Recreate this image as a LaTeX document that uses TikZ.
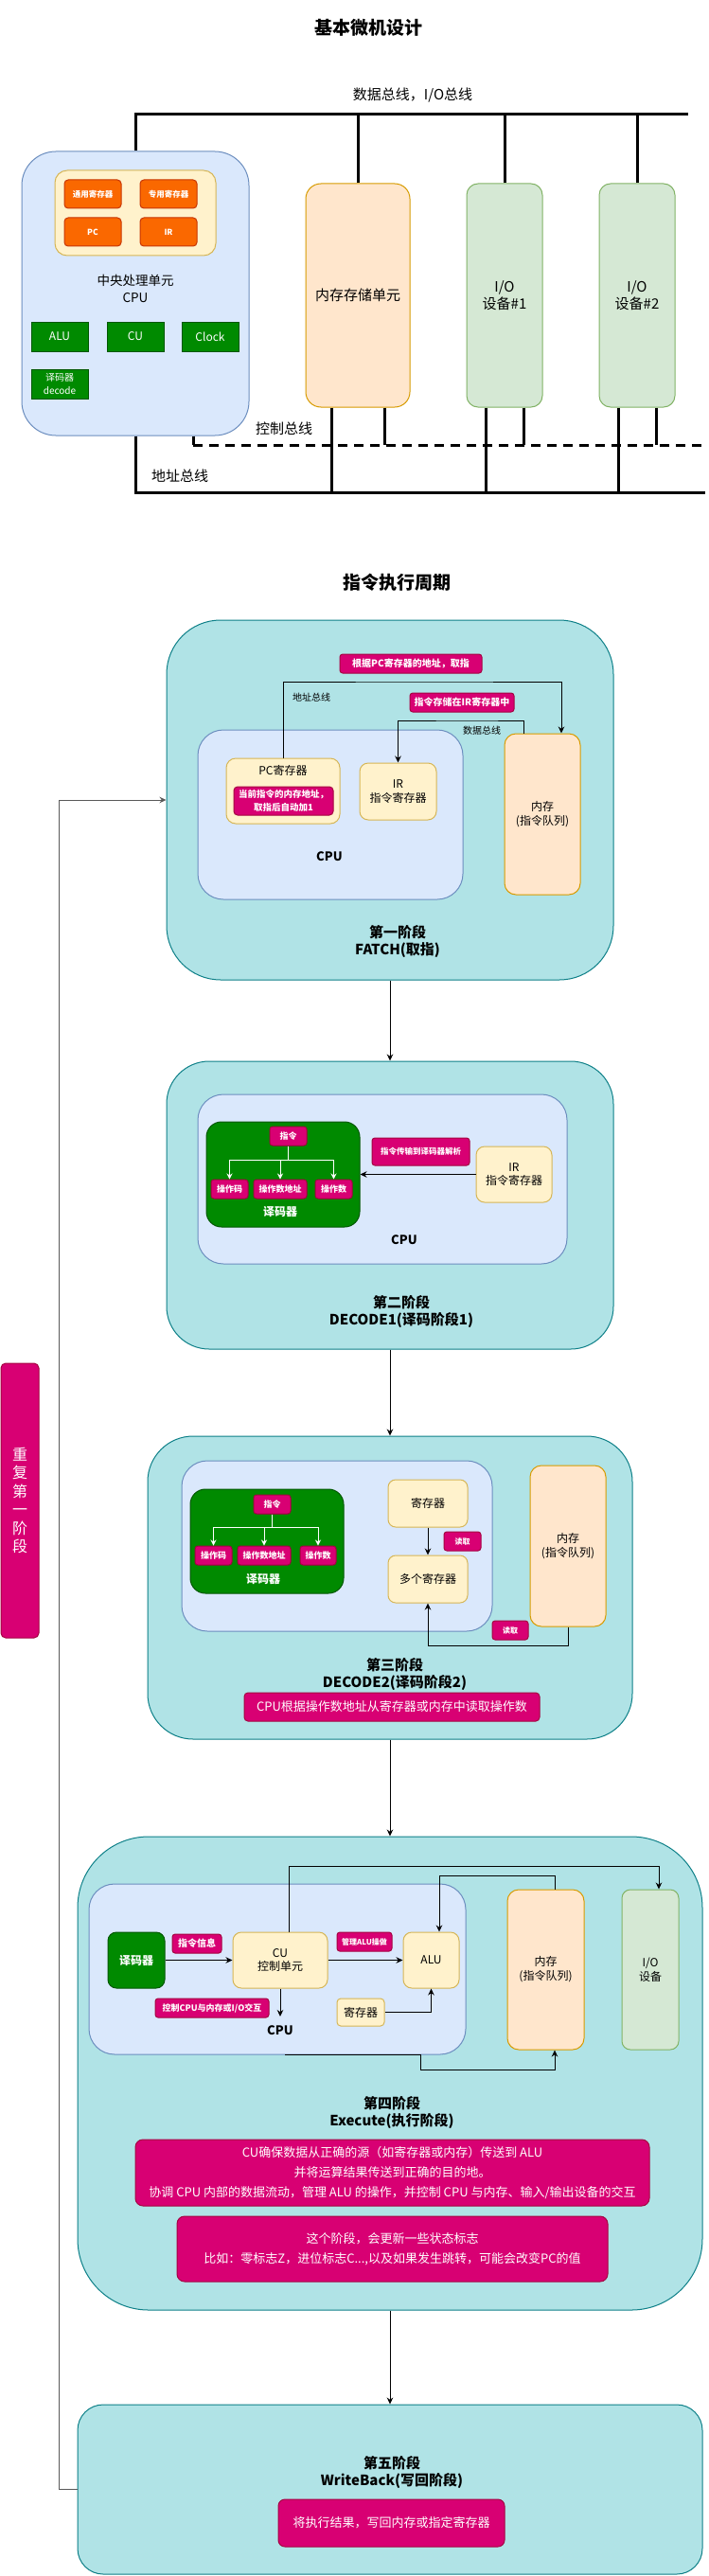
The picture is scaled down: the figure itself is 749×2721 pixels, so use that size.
\documentclass[tikz,border=0pt]{standalone}
\usepackage{fontspec}
\setmainfont{Noto Sans CJK SC}
\usetikzlibrary{arrows.meta,calc}
\definecolor{tealF}{HTML}{B0E3E6}
\definecolor{tealD}{HTML}{0E8088}
\definecolor{blueF}{HTML}{DAE8FC}
\definecolor{blueD}{HTML}{6C8EBF}
\definecolor{yelF}{HTML}{FFF2CC}
\definecolor{yelD}{HTML}{D6B656}
\definecolor{orgF}{HTML}{FA6800}
\definecolor{orgD}{HTML}{C73500}
\definecolor{grnF}{HTML}{008A00}
\definecolor{grnD}{HTML}{005700}
\definecolor{memF}{HTML}{FFE6CC}
\definecolor{memD}{HTML}{D79B00}
\definecolor{ioF}{HTML}{D5E8D4}
\definecolor{ioD}{HTML}{82B366}
\definecolor{pinkF}{HTML}{D80073}
\definecolor{pinkD}{HTML}{A50040}
\newcommand\myfs[2]{\fontsize{#1}{#2}\selectfont}
\tikzset{
  sz/.style 2 args={minimum width=#1pt,minimum height=#2pt},
  rc/.style={rounded corners=#1pt},
  box/.style={draw,line width=1pt,inner sep=0pt,align=center},
  tealb/.style={box,fill=tealF,draw=tealD},
  blueb/.style={box,fill=blueF,draw=blueD},
  yelb/.style={box,fill=yelF,draw=yelD,font=\myfs{12}{14.7}},
  orgb/.style={box,fill=orgF,draw=orgD,text=white},
  grnb/.style={box,fill=grnF,draw=grnD,text=white},
  memb/.style={box,fill=memF,draw=memD,font=\myfs{12}{15}},
  iob/.style={box,fill=ioF,draw=ioD,font=\myfs{12}{15}},
  pinkb/.style={box,fill=pinkF,draw=pinkD,text=white},
  tag/.style={pinkb,rc=3,font=\bfseries\myfs{9}{11}},
  txt/.style={inner sep=0pt,align=center},
  stage/.style={txt,font=\bfseries\myfs{15}{18}},
  bus/.style={draw,line width=3pt},
  arr/.style={draw,line width=1pt,-{Stealth[length=7pt,width=6.5pt]}},
  warr/.style={draw=white,line width=1pt,-{Stealth[length=6pt,width=6pt]}},
}
\begin{document}
\begin{tikzpicture}[x=1pt,y=-1pt]
\useasboundingbox[fill=white] (0,0) rectangle (749,2721);

% ===== Section 1: basic microcomputer =====
\node[txt,font=\bfseries\myfs{19}{22}] (t1) at (389,29) {基本微机设计};
\node[txt,font=\myfs{15}{18}] (dbl) at (436,101) {数据总线，I/O总线};

\node[blueb,sz={240}{300},rc=36] (cpu1) at (143,310) {};
\node[yelb,sz={170}{90},rc=13] (rg) at (143,225) {};
\node[orgb,sz={60}{30},rc=4,font=\bfseries\myfs{8.5}{10}] (r1) at (98,205) {通用寄存器};
\node[orgb,sz={60}{30},rc=4,font=\bfseries\myfs{8.5}{10}] (r2) at (178,205) {专用寄存器};
\node[orgb,sz={60}{30},rc=4,font=\bfseries\myfs{8.5}{10}] (r3) at (98,245) {PC};
\node[orgb,sz={60}{30},rc=4,font=\bfseries\myfs{8.5}{10}] (r4) at (178,245) {IR};
\node[txt,font=\myfs{13.5}{18}] (cpu1l) at (143,305) {中央处理单元\\CPU};
\node[grnb,sz={60}{31},font=\myfs{12}{14}] (alu1) at (63,355.5) {ALU};
\node[grnb,sz={60}{31},font=\myfs{12}{14}] (cu1) at (143,355.5) {CU};
\node[grnb,sz={60}{31},font=\myfs{12}{14}] (clk1) at (222,355.5) {Clock};
\node[grnb,sz={60}{31},font=\myfs{10}{14}] (dec1) at (63,405.5) {译码器\\decode};

\node[memb,sz={110}{236},rc=16,font=\myfs{15}{18}] (mem1) at (378,312) {内存存储单元};
\node[iob,sz={80}{236},rc=12,font=\myfs{15}{18}] (io1) at (533,312) {I/O\\设备\#1};
\node[iob,sz={80}{236},rc=12,font=\myfs{15}{18}] (io2) at (673,312) {I/O\\设备\#2};

% data bus
\coordinate (tb0) at (143,121);
\coordinate (tb1) at (727,121);
\draw[bus] (cpu1.north) -- (tb0) -- (tb1);
\draw[bus] (mem1.north) -- (mem1.north |- tb0);
\draw[bus] (io1.north) -- (io1.north |- tb0);
\draw[bus] (io2.north) -- (io2.north |- tb0);
% address bus
\coordinate (ab0) at (143,520);
\coordinate (ab1) at (745,520);
\draw[bus] (cpu1.south) -- (ab0) -- (ab1);
\draw[bus] ([xshift=-28pt]mem1.south) -- ([xshift=-28pt]mem1.south |- ab0);
\draw[bus] ([xshift=-20pt]io1.south) -- ([xshift=-20pt]io1.south |- ab0);
\draw[bus] ([xshift=-20pt]io2.south) -- ([xshift=-20pt]io2.south |- ab0);
% control bus
\coordinate (cb0) at (204,470);
\coordinate (cb1) at (745,470);
\draw[bus] ([xshift=61pt]cpu1.south) -- (cb0);
\draw[bus,dash pattern=on 10pt off 7pt] (cb0) -- (cb1);
\draw[bus] ([xshift=28pt]mem1.south) -- ([xshift=28pt]mem1.south |- cb0);
\draw[bus] ([xshift=20pt]io1.south) -- ([xshift=20pt]io1.south |- cb0);
\draw[bus] ([xshift=20pt]io2.south) -- ([xshift=20pt]io2.south |- cb0);
\node[txt,font=\myfs{15}{18}] (cbl) at (300,453) {控制总线};
\node[txt,font=\myfs{15}{18}] (abl) at (190,503) {地址总线};

% ===== Section 2: instruction cycle =====
\node[txt,font=\bfseries\myfs{19}{22}] (t2) at (419,615) {指令执行周期};

% --- Stage 1: fetch
\node[tealb,sz={472}{380},rc=57] (fetch) at (412,845) {};
\node[tag,sz={150}{20},font=\bfseries\myfs{10}{12}] (lbl1) at (434,701) {根据PC寄存器的地址，取指};
\node[tag,sz={110}{20},font=\bfseries\myfs{10}{12}] (lbl2) at (488,742) {指令存储在IR寄存器中};
\node[blueb,sz={280}{179},rc=27] (cpu2) at (349,860.5) {};
\node[yelb,sz={120}{69},rc=10] (pc2) at (299,835.5) {};
\node[txt,font=\myfs{12}{14}] (pc2t) at (299,814) {PC寄存器};
\node[pinkb,sz={105}{30},rc=4,font=\bfseries\myfs{9.5}{14.3}] (pcn) at (299.5,846) {当前指令的内存地址，\\取指后自动加1};
\node[yelb,sz={81}{60},rc=9] (ir2) at (420.5,836) {IR\\指令寄存器};
\node[txt,font=\bfseries\myfs{13}{15}] (cpu2l) at (348,905) {CPU};
\node[memb,sz={80}{170},rc=12] (mem2) at (573,860) {内存\\(指令队列)};
\node[txt,font=\myfs{10}{12}] (abus2) at (329,737) {地址总线};
\node[txt,font=\myfs{10}{12}] (dbus2) at (509,772) {数据总线};
\coordinate (f1) at (450,720);
\coordinate (f2) at (500,761);
\draw[arr] (pc2.north) |- (f1) -| ([xshift=20pt]mem2.north);
\draw[arr] ([xshift=-20pt]mem2.north) |- (f2) -| (ir2.north);
\node[stage] (st1) at (420,994) {第一阶段\\FATCH(取指)};

% --- Stage 2: decode 1
\node[tealb,sz={472}{304},rc=45] (dcA) at (412,1273) {};
\node[blueb,sz={390}{179},rc=27] (cpu3) at (404,1245.5) {};
\node[grnb,sz={162}{111},rc=16] (decg) at (299,1240.5) {};
\node[tag,sz={39}{20}] (i1) at (304.5,1200) {指令};
\node[tag,sz={39}{20}] (o1) at (242.5,1256) {操作码};
\node[tag,sz={56}{20}] (o2) at (296,1256) {操作数地址};
\node[tag,sz={39}{20}] (o3) at (352.5,1256) {操作数};
\node[txt,text=white,font=\bfseries\myfs{12}{14}] (decgt) at (296,1280) {译码器};
\coordinate (j1) at (304.5,1225);
\draw[warr] (i1.south) -- (j1) -| (o1.north);
\draw[warr] (i1.south) -- (j1) -| (o2.north);
\draw[warr] (i1.south) -- (j1) -| (o3.north);
\node[tag,sz={103}{29},font=\bfseries\myfs{8.5}{10}] (lbl3) at (444.5,1216.5) {指令传输到译码器解析};
\node[yelb,sz={80}{59},rc=9] (ir3) at (543,1240.5) {IR\\指令寄存器};
\draw[arr] (ir3.west) -- (decg.east);
\node[txt,font=\bfseries\myfs{13}{15}] (cpu3l) at (427,1310) {CPU};
\node[stage] (st2) at (424,1385) {第二阶段\\DECODE1(译码阶段1)};

% --- Stage 3: decode 2
\node[tealb,sz={512}{320},rc=48] (dcB) at (412,1677) {};
\node[blueb,sz={328}{180},rc=27] (cpu4) at (356,1633) {};
\node[grnb,sz={162}{110},rc=16] (decg2) at (282,1628) {};
\node[tag,sz={39}{20}] (i2) at (287.5,1589) {指令};
\node[tag,sz={39}{20}] (p1) at (225.5,1643) {操作码};
\node[tag,sz={56}{20}] (p2) at (279,1643) {操作数地址};
\node[tag,sz={38}{20}] (p3) at (336,1643) {操作数};
\node[txt,text=white,font=\bfseries\myfs{12}{14}] (decg2t) at (278,1668) {译码器};
\coordinate (j2) at (287.5,1613);
\draw[warr] (i2.south) -- (j2) -| (p1.north);
\draw[warr] (i2.south) -- (j2) -| (p2.north);
\draw[warr] (i2.south) -- (j2) -| (p3.north);
\node[yelb,sz={84}{50},rc=8] (reg4) at (452,1588) {寄存器};
\node[yelb,sz={84}{50},rc=8] (mreg4) at (452,1668) {多个寄存器};
\node[tag,sz={39}{20},font=\bfseries\myfs{8}{10}] (rd1) at (488.5,1628) {读取};
\node[memb,sz={80}{170},rc=12] (mem4) at (600,1633) {内存\\(指令队列)};
\node[tag,sz={38}{20},font=\bfseries\myfs{8}{10}] (rd2) at (539,1722) {读取};
\draw[arr] (reg4.south) -- (mreg4.north);
\coordinate (g1) at (520,1738);
\draw[arr] (mem4.south) |- (g1) -| (mreg4.south);
\node[stage] (st3) at (417,1768.5) {第三阶段\\DECODE2(译码阶段2)};
\node[pinkb,sz={312}{30},rc=4,font=\myfs{13}{15}] (lbl4) at (414,1803) {CPU根据操作数地址从寄存器或内存中读取操作数};

% --- Stage 4: execute
\node[tealb,sz={660}{500},rc=75] (exe) at (412,2190) {};
\node[blueb,sz={398}{180},rc=27] (cpu5) at (293,2080) {};
\node[grnb,sz={60}{59},rc=9,font=\bfseries\myfs{12}{14}] (dec5) at (144,2070.5) {译码器};
\node[tag,sz={52}{20},font=\bfseries\myfs{10}{12}] (tg1) at (208,2053) {指令信息};
\node[yelb,sz={100}{59},rc=9] (cu5) at (296,2070.5) {CU\\控制单元};
\node[tag,sz={58}{20},font=\bfseries\myfs{8}{10}] (tg2) at (385,2051) {管理ALU操做};
\node[yelb,sz={59}{59},rc=9] (alu5) at (455.5,2070.5) {ALU};
\node[tag,sz={120}{20},font=\bfseries\myfs{9}{11}] (tg3) at (224,2121) {控制CPU与内存或I/O交互};
\node[txt,font=\bfseries\myfs{13}{15}] (cpu5l) at (296,2145) {CPU};
\node[yelb,sz={50}{29},rc=4] (reg5) at (381,2125.5) {寄存器};
\node[memb,sz={81}{169},rc=12] (mem5) at (576.5,2080.5) {内存\\(指令队列)};
\node[iob,sz={60}{169},rc=9] (io5) at (687,2080.5) {I/O\\设备};
\draw[arr] (dec5.east) -- (cu5.west);
\draw[arr] (cu5.east) -- (alu5.west);
\coordinate (cub) at (296,2130);
\draw[arr] (cu5.south) -- (cub);
\draw[arr] (reg5.east) -| (alu5.south);
\coordinate (e1) at (500,1971);
\draw[arr] ([xshift=9pt]cu5.north) |- (e1) -| ([xshift=9pt]io5.north);
\coordinate (e2) at (520,1981);
\draw[arr] ([xshift=9.5pt]mem5.north) |- (e2) -| ([xshift=8.5pt]alu5.north);
\coordinate (e3) at (444,2186);
\draw[arr] ([xshift=8pt]cpu5.south) -| (e3) -| ([xshift=9.5pt]mem5.south);
\node[stage] (st4) at (414,2231) {第四阶段\\Execute(执行阶段)};
\node[pinkb,sz={543}{70},rc=8,font=\myfs{13}{21}] (lbl5) at (414.5,2295) {CU确保数据从正确的源（如寄存器或内存）传送到 ALU\\并将运算结果传送到正确的目的地。\\协调 CPU 内部的数据流动，管理 ALU 的操作，并控制 CPU 与内存、输入/输出设备的交互};
\node[pinkb,sz={455}{69},rc=8,font=\myfs{13}{21}] (lbl6) at (414.5,2375.5) {这个阶段，会更新一些状态标志\\比如：零标志Z，进位标志C...,以及如果发生跳转，可能会改变PC的值};

% --- Stage 5: write back
\node[tealb,sz={660}{179},rc=27] (wb) at (412,2629.5) {};
\node[stage] (st5) at (414,2611) {第五阶段\\WriteBack(写回阶段)};
\node[pinkb,sz={239}{50},rc=7,font=\myfs{13}{15}] (lbl7) at (413.5,2665) {将执行结果，写回内存或指定寄存器};

% stage flow
\draw[arr] (fetch.south) -- (dcA.north);
\draw[arr] (dcA.south) -- (dcB.north);
\draw[arr] (dcB.south) -- (exe.north);
\draw[arr] (exe.south) -- (wb.north);

% loop back
\coordinate (lp1) at (62,2629.5);
\coordinate (lp2) at (62,845);
\draw[arr,draw=black!65] (wb.west) -- (lp1) -- (lp2) -- (fetch.west);
\node[pinkb,sz={40}{290},rc=5,font=\myfs{16}{19.5}] (rep) at (21,1585) {重\\复\\第\\一\\阶\\段};
\end{tikzpicture}
\end{document}
